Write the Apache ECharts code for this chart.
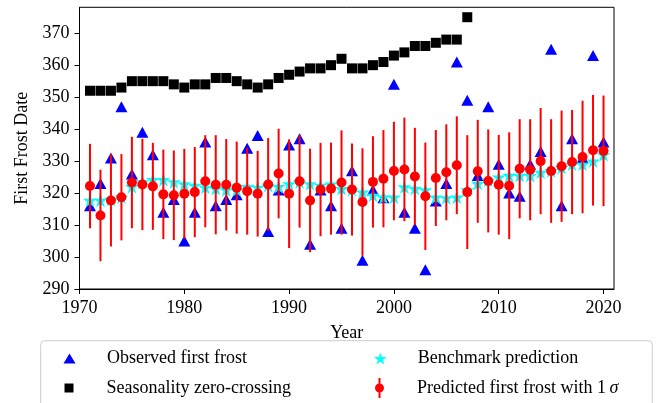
<!DOCTYPE html>
<html>
<head>
<meta charset="utf-8">
<script src="https://cdn.jsdelivr.net/npm/echarts@6/dist/echarts.min.js"></script>
<style>
  html, body { margin: 0; padding: 0; background: #fff; }
  #chart { width: 657px; height: 403px; }
</style>
</head>
<body>
<div id="chart"></div>
<script>
// years 1971..2020
const years = [
  1971, 1972, 1973, 1974, 1975, 1976, 1977, 1978, 1979, 1980,
  1981, 1982, 1983, 1984, 1985, 1986, 1987, 1988, 1989, 1990,
  1991, 1992, 1993, 1994, 1995, 1996, 1997, 1998, 1999, 2000,
  2001, 2002, 2003, 2004, 2005, 2006, 2007, 2008, 2009, 2010,
  2011, 2012, 2013, 2014, 2015, 2016, 2017, 2018, 2019, 2020
];

// observed first frost (blue triangles)
const observed = [
  316, 323, 331, 347, 326, 339, 332, 314, 318, 305,
  314, 336, 316, 318, 319.5, 334, 338, 308, 321, 335,
  337, 304, 321, 316, 309, 327, 299, 321, 318.5, 354,
  314, 309, 296, 317.5, 323, 361, 349, 325.5, 347, 329,
  320, 319, 329, 333, 365, 316, 337, 331, 363, 336
];

// seasonality zero-crossing (black squares), only up to 2007
const zeroCross = [
  352, 352, 352, 353, 355, 355, 355, 355, 354, 353,
  354, 354, 356, 356, 355, 354, 353, 354, 356, 357,
  358, 359, 359, 360, 362, 359, 359, 360, 361, 363,
  364, 366, 366, 367, 368, 368, 375
];

// benchmark prediction (cyan stars)
const benchmark = [
  317.7, 317.7, 318, 318.7, 322, 323.5, 324.2, 324.2, 323.5, 322.9,
  322.4, 321.8, 321.4, 321, 321, 322, 321.8, 322.4, 322, 322.9,
  323.5, 322.9, 322.4, 322.8, 321.4, 321, 320.3, 319.3, 318.7, 318.7,
  321.9, 321.4, 321, 318.7, 318.5, 318.7, 321, 323, 324, 325,
  325.5, 325.5, 325.5, 326.5, 327, 328, 329, 329, 330, 332
];

// predicted first frost (red dots) and 1 sigma
const predicted = [
  322.2, 313, 317.7, 318.7, 323.3, 322.7, 322.1, 319.6, 319.3, 319.8,
  320.3, 323.7, 322.6, 322.6, 321.7, 320.6, 319.8, 322.7, 326.1, 319.8,
  323.7, 317.7, 321.1, 321.4, 323.3, 321.1, 317.2, 323.5, 324.5, 326.9,
  327.4, 325.2, 319, 324.7, 326.5, 328.7, 320.3, 326.8, 323.8, 322.6,
  322.3, 327.6, 327.3, 330, 326.9, 328.4, 329.7, 331.3, 333.4, 333.2
];
const sigma = [
  13.2, 14.3, 14.4, 13.5, 14.3, 14.3, 13.6, 14, 14, 14,
  14.1, 14.4, 15.5, 14.3, 14.4, 13.6, 13.4, 14.5, 14, 17,
  14.5, 16.2, 14.6, 14.4, 16.3, 14.4, 16.8, 14.3, 15.2, 15.4,
  16.2, 15.2, 16.8, 15, 15, 15.3, 17.8, 16.1, 16.1, 15.6,
  16.7, 15.5, 15.8, 16.6, 16.2, 17.4, 16.3, 17.6, 17.3, 17.3
];

const yTicks = [290, 300, 310, 320, 330, 340, 350, 360, 370];
const xTicks = [1970, 1980, 1990, 2000, 2010, 2020];

const FONT = 'Liberation Serif';
const STAR = 'path://M50,0 L61.8,35.5 L99,35.5 L69,57.5 L80.5,93 L50,71 L19.5,93 L31,57.5 L1,35.5 L38.2,35.5 Z';
const TRI = 'path://M0,10 L6,0 L12,10 Z';
const SQR = 'path://M0,0 L10,0 L10,10 L0,10 Z';
const ERRDOT = 'path://M4,0 L6,0 L6,20 L4,20 Z M9.5,10 A4.5,4.5 0 1 1 0.5,10 A4.5,4.5 0 1 1 9.5,10 Z';

const chart = echarts.init(document.getElementById('chart'));

const errData = years.map((y, i) => [y, predicted[i] - sigma[i], predicted[i] + sigma[i]]);

// legend is placed by the drawn icon's left edge, so left = icon centre - icon width / 2
function oneLegend(name, icon, left, top, h) {
    return {
        data: [{ name: name, icon: icon }],
        left: left,
        top: top,
        padding: 0,
        itemWidth: 65,
        itemHeight: h,
        selectedMode: false,
        itemStyle: { opacity: 1 },
        textStyle: {
            fontFamily: FONT,
            fontSize: 18,
            color: '#000',
            lineHeight: 20,
            rich: { s: { fontFamily: FONT, fontSize: 18, fontStyle: 'italic', color: '#000' } }
        },
        formatter: function (n) {
            return n === 'Predicted first frost with 1σ' ? 'Predicted first frost with 1\u2009{s|σ}' : n;
        }
    };
}

const option = {
    animation: false,
    grid: {
        left: 79.5,
        top: 7.3,
        right: 43,
        bottom: 114,
        show: true,
        borderColor: '#000',
        borderWidth: 1
    },
    xAxis: {
        type: 'value',
        min: 1970,
        max: 2021,
        interval: 10,
        name: 'Year',
        nameLocation: 'middle',
        nameGap: 35.5,
        nameTextStyle: { fontFamily: FONT, fontSize: 18, color: '#000' },
        axisLine: { lineStyle: { color: '#000', width: 1 } },
        axisTick: { length: 5, lineStyle: { color: '#000' }, customValues: xTicks },
        axisLabel: {
            fontFamily: FONT, fontSize: 18, color: '#000', margin: 10,
            customValues: xTicks,
            formatter: v => String(v)
        },
        splitLine: { show: false }
    },
    yAxis: {
        type: 'value',
        min: 290,
        max: 378.1,
        interval: 10,
        name: 'First Frost Date',
        nameLocation: 'middle',
        nameRotate: 90,
        nameGap: 48,
        nameTextStyle: { fontFamily: FONT, fontSize: 18, color: '#000' },
        axisLine: { lineStyle: { color: '#000', width: 1 } },
        axisTick: { length: 5, lineStyle: { color: '#000' }, customValues: yTicks },
        axisLabel: { fontFamily: FONT, fontSize: 18, color: '#000', margin: 10, customValues: yTicks },
        splitLine: { show: false }
    },
    legend: [
        oneLegend('Observed first frost', TRI, 63.5, 348.5, 10),
        oneLegend('Seasonality zero-crossing', SQR, 64.5, 378, 9),
        oneLegend('Benchmark prediction', STAR, 374, 348.5, 12),
        oneLegend('Predicted first frost with 1σ', ERRDOT, 375, 378, 20)
    ],
    graphic: [{
        type: 'rect',
        shape: { x: 40.7, y: 340.7, width: 611.6, height: 75, r: 4 },
        style: { fill: 'rgba(255,255,255,0.8)', stroke: '#cccccc', lineWidth: 1 },
        z: -1
    }],
    series: [
        {
            name: 'Observed first frost',
            type: 'scatter',
            symbol: 'triangle',
            symbolSize: [12, 11],
            itemStyle: { color: '#0000ff', opacity: 1 },
            data: years.map((y, i) => [y, observed[i]]),
            z: 2
        },
        {
            name: 'Seasonality zero-crossing',
            type: 'scatter',
            symbol: 'rect',
            symbolSize: 10,
            itemStyle: { color: '#000', opacity: 1 },
            data: zeroCross.map((v, i) => [years[i], v]),
            z: 3
        },
        {
            name: 'Benchmark prediction',
            type: 'scatter',
            symbol: STAR,
            symbolSize: 14,
            itemStyle: { color: '#00ffff', opacity: 1 },
            data: years.map((y, i) => [y, benchmark[i]]),
            z: 4
        },
        {
            name: 'Predicted first frost with 1σ',
            type: 'custom',
            data: errData,
            encode: { x: 0, y: [1, 2] },
            renderItem: function (params, api) {
                const lo = api.coord([api.value(0), api.value(1)]);
                const hi = api.coord([api.value(0), api.value(2)]);
                return {
                    type: 'line',
                    shape: { x1: lo[0], y1: lo[1], x2: hi[0], y2: hi[1] },
                    style: { stroke: '#ff0000', lineWidth: 2 }
                };
            },
            itemStyle: { color: '#ff0000' },
            z: 5
        },
        {
            name: 'Predicted first frost with 1σ',
            type: 'scatter',
            symbol: 'circle',
            symbolSize: 10,
            itemStyle: { color: '#ff0000', opacity: 1 },
            data: years.map((y, i) => [y, predicted[i]]),
            z: 6
        }
    ]
};

chart.setOption(option);
</script>
</body>
</html>
